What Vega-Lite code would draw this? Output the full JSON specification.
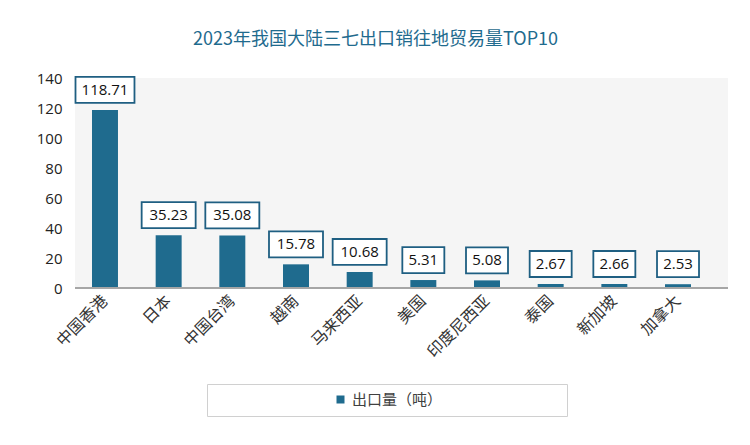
{
  "$schema": "https://vega.github.io/schema/vega-lite/v6.json",
  "width": 653,
  "height": 210,
  "autosize": {"type": "none"},
  "padding": {"left": 75, "top": 78, "right": 22, "bottom": 157},
  "background": "white",
  "title": {
    "text": "2023年我国大陆三七出口销往地贸易量TOP10",
    "font": "Noto Sans CJK SC",
    "fontSize": 18,
    "fontWeight": "normal",
    "color": "#1f6b8e",
    "anchor": "middle",
    "frame": "group",
    "dx": -26,
    "offset": 22
  },
  "config": {
    "view": {"fill": "#f5f5f5", "stroke": null}
  },
  "data": {
    "values": [
      {"country": "中国香港", "value": 118.71},
      {"country": "日本", "value": 35.23},
      {"country": "中国台湾", "value": 35.08},
      {"country": "越南", "value": 15.78},
      {"country": "马来西亚", "value": 10.68},
      {"country": "美国", "value": 5.31},
      {"country": "印度尼西亚", "value": 5.08},
      {"country": "泰国", "value": 2.67},
      {"country": "新加坡", "value": 2.66},
      {"country": "加拿大", "value": 2.53}
    ]
  },
  "layer": [
    {
      "mark": {"type": "bar"},
      "encoding": {
        "x": {
          "field": "country",
          "type": "nominal",
          "sort": null,
          "scale": {"range": [0, 633], "paddingInner": 0.592, "paddingOuter": 0.267},
          "axis": {
            "title": null,
            "domain": false,
            "ticks": false,
            "labelAngle": -45,
            "labelAlign": "right",
            "labelBaseline": "middle",
            "labelPadding": 10,
            "labelFont": "Noto Sans CJK SC",
            "labelFontSize": 16,
            "labelColor": "#333333"
          }
        },
        "y": {
          "field": "value",
          "type": "quantitative",
          "scale": {"domain": [0, 140], "nice": false},
          "axis": {
            "title": null,
            "domain": false,
            "ticks": false,
            "grid": false,
            "tickCount": 7,
            "labelOverlap": false,
            "labelBound": false,
            "labelFlush": false,
            "labelSeparation": 0,
            "labelPadding": 13,
            "labelFont": "Open Sans",
            "labelFontSize": 15,
            "labelColor": "#222222"
          }
        },
        "color": {
          "datum": "出口量（吨）",
          "type": "nominal",
          "scale": {"range": ["#1f6b8e"]},
          "legend": {
            "orient": "none",
            "legendX": 132,
            "legendY": 306,
            "padding": 8,
            "strokeColor": "#d0d0d0",
            "fillColor": "white",
            "symbolType": "square",
            "symbolSize": 64,
            "symbolStrokeWidth": 0,
            "symbolOffset": 118,
            "labelOffset": 4,
            "labelFont": "Noto Sans CJK SC",
            "labelFontSize": 15,
            "labelColor": "#404040",
            "title": "出口量（吨）",
            "titleOrient": "right",
            "titleFont": "Noto Sans CJK SC",
            "titleFontSize": 15,
            "titleFontWeight": "normal",
            "titlePadding": 26,
            "titleColor": "rgba(0,0,0,0)"
          }
        }
      }
    },
    {
      "mark": {"type": "rule", "color": "#a6a6a6", "strokeWidth": 1.5},
      "encoding": {
        "y": {"datum": 0, "type": "quantitative"}
      }
    },
    {
      "mark": {
        "type": "point",
        "filled": true,
        "fill": "white",
        "stroke": "#1f5f82",
        "strokeWidth": 1.8,
        "opacity": 1,
        "size": 3600,
        "yOffset": -20
      },
      "encoding": {
        "x": {"field": "country", "type": "nominal", "sort": null},
        "y": {"field": "value", "type": "quantitative"},
        "shape": {
          "condition": [
            {"test": "datum.value > 100", "value": "M-0.983,-0.433H0.983V0.433H-0.983Z"},
            {"test": "datum.value >= 10", "value": "M-0.9,-0.433H0.9V0.433H-0.9Z"}
          ],
          "value": "M-0.7,-0.433H0.7V0.433H-0.7Z"
        }
      }
    },
    {
      "mark": {
        "type": "text",
        "dy": -20,
        "baseline": "middle",
        "align": "center",
        "font": "Open Sans",
        "fontSize": 15,
        "color": "#111111"
      },
      "encoding": {
        "x": {"field": "country", "type": "nominal", "sort": null},
        "y": {"field": "value", "type": "quantitative"},
        "text": {"field": "value", "type": "quantitative", "format": ".2f"}
      }
    }
  ]
}
